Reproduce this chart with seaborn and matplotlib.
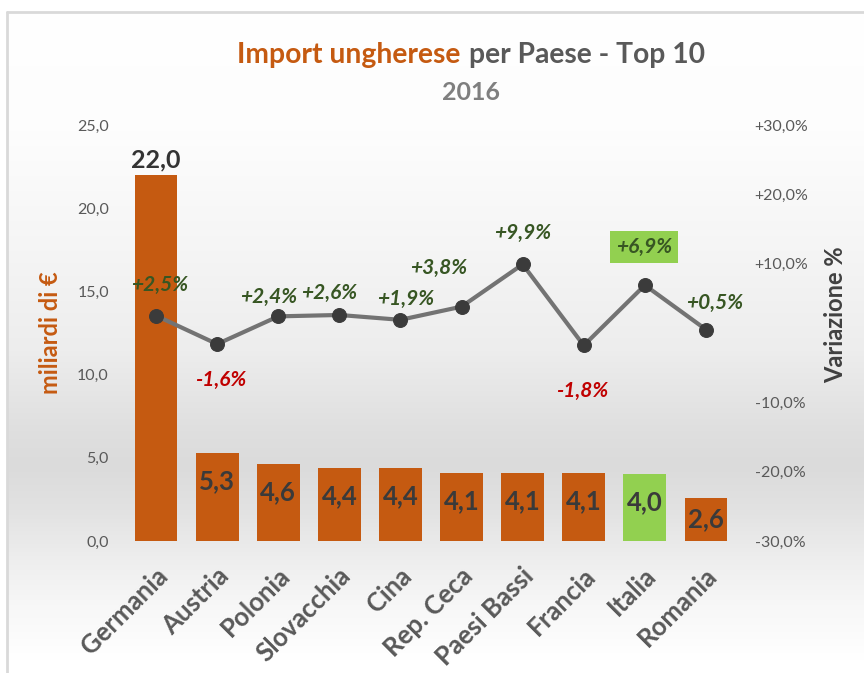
import numpy as np
import matplotlib
matplotlib.use("Agg")
import matplotlib.pyplot as plt
import matplotlib.transforms as mtransforms
import seaborn as sns

countries = ["Germania", "Austria", "Polonia", "Slovacchia", "Cina",
             "Rep. Ceca", "Paesi Bassi", "Francia", "Italia", "Romania"]
imports_bn = [22.0, 5.3, 4.6, 4.4, 4.4, 4.1, 4.1, 4.1, 4.0, 2.6]
change_pct = [2.5, -1.6, 2.4, 2.6, 1.9, 3.8, 9.9, -1.8, 6.9, 0.5]
left_ticks = [0, 5, 10, 15, 20, 25]
right_ticks = [-30, -20, -10, 10, 20, 30]

ORANGE = "#C55A11"
GREEN = "#92D050"
bar_colors = [GREEN if c == "Italia" else ORANGE for c in countries]

sns.set_theme(style="white")
plt.rcParams["font.family"] = ["Lato", "DejaVu Sans"]

W, H = 864, 673
fig = plt.figure(figsize=(W / 100, H / 100), dpi=100)

# background gradient inside the chart frame
bg = fig.add_axes([0, 0, 1, 1], zorder=-10)
bg.axis("off")
ys = np.arange(H)
kp_y = [0, 130, 250, 350, 430, 465, 510, 560, 610, 660, 673]
kp_v = [255, 253, 245, 237, 223, 219, 226, 238, 248, 255, 255]
g = np.interp(ys, kp_y, kp_v) / 255.0
img = np.repeat(g[:, None], W, axis=1)
img[:13, :] = 1.0
img[:, :8] = 1.0
bg.imshow(np.dstack([img, img, img]), aspect="auto", extent=[0, W, H, 0])
bg.set_xlim(0, W)
bg.set_ylim(H, 0)
bg.plot([7, 7], [12, H], color="#d9d9d9", lw=2)
bg.plot([7, W], [12, 12], color="#d9d9d9", lw=2)

ax = fig.add_axes([125.5 / W, 132 / H, 611 / W, 416 / H])
ax.set_facecolor("none")
sns.barplot(x=countries, y=imports_bn, hue=countries, palette=bar_colors,
            legend=False, width=0.7, saturation=1, ax=ax, edgecolor="none")
ax.set_xlim(-0.5, len(countries) - 0.5)
ax.set_ylim(0, 25)
ax.set_yticks(left_ticks)
ax.set_yticklabels([f"{t:.1f}".replace(".", ",") for t in left_ticks],
                   color="#595959", fontsize=11.5)
ax.tick_params(axis="y", length=0, pad=12)
ax.tick_params(axis="x", length=0, pad=16)
ax.set_xlabel("")
ax.set_ylabel("")
shift = mtransforms.ScaledTranslation(-1 / 100, 0, fig.dpi_scale_trans)
for lbl in ax.get_xticklabels():
    lbl.set_rotation(45)
    lbl.set_ha("right")
    lbl.set_rotation_mode("anchor")
    lbl.set_fontsize(18.5)
    lbl.set_fontweight("bold")
    lbl.set_color("#595959")
    lbl.set_transform(lbl.get_transform() + shift)
for s in ax.spines.values():
    s.set_visible(False)

# bar value labels
px_per_unit = 416 / 25
for i, v in enumerate(imports_bn):
    txt = f"{v:.1f}".replace(".", ",")
    if i == 0:
        ax.annotate(txt, (i, v), xytext=(0, 3), textcoords="offset pixels",
                    ha="center", va="bottom", fontsize=18, fontweight="bold",
                    color="#333333")
    else:
        yc = max(v - 28 / px_per_unit, v / 2)
        ax.text(i, yc, txt, ha="center", va="center", fontsize=18.5,
                fontweight="bold", color="#3a3a3a")

ax2 = ax.twinx()
ax2.set_position(ax.get_position())
sns.lineplot(x=np.arange(len(countries)), y=change_pct, ax=ax2, sort=False,
             color="#737373", lw=3, marker="o", markersize=10,
             markerfacecolor="#3b3b3b", markeredgecolor="#3b3b3b")
ax2.set_xlim(-0.5, len(countries) - 0.5)
ax2.set_ylim(-30, 30)
ax2.set_yticks(right_ticks)
ax2.set_yticklabels([f"{t:+.1f}%".replace(".", ",") for t in right_ticks],
                    color="#595959", fontsize=11.5)
ax2.tick_params(axis="y", length=0, pad=13)
ax2.set_ylabel("")
for s in ax2.spines.values():
    s.set_visible(False)

# axis titles
fig.text(50 / W, 1 - 333 / H, "miliardi di €", color=ORANGE, fontsize=17,
         fontweight="bold", rotation=90, ha="center", va="center")
fig.text(836 / W, 1 - 315 / H, "Variazione %", color="#404040", fontsize=17,
         fontweight="bold", rotation=90, ha="center", va="center")

offsets = [(4, 31), (4, -36), (-10, 19), (-10, 22), (5, 21),
           (-23, 39), (0, 31), (-2, -45), (-1, 38), (9, 27)]
for i, (v, (dx, dy)) in enumerate(zip(change_pct, offsets)):
    txt = f"{v:+.1f}%".replace(".", ",")
    col = "#375623" if v >= 0 else "#C00000"
    kw = {}
    if countries[i] == "Italia":
        kw["bbox"] = dict(boxstyle="square,pad=0.3", fc=GREEN, ec="none")
    ax2.annotate(txt, (i, v), xytext=(dx, dy), textcoords="offset pixels",
                 ha="center", va="center", fontsize=15, fontweight="bold",
                 fontstyle="italic", color=col, **kw)

# title
t1 = fig.text(0, 1 - 55 / H, "Import ungherese", color=ORANGE, fontsize=20.3,
              fontweight="bold", ha="left", va="center")
t2 = fig.text(0, 1 - 55 / H, "per Paese - Top 10", color="#595959", fontsize=20.3,
              fontweight="bold", ha="left", va="center")
fig.canvas.draw()
r = fig.canvas.get_renderer()
w1 = t1.get_window_extent(r).width
w2 = t2.get_window_extent(r).width
gap = 8
total = w1 + gap + w2
x0 = 471 - total / 2
t1.set_x(x0 / W)
t2.set_x((x0 + w1 + gap) / W)
fig.text(471 / W, 1 - 93 / H, "2016", color="#7f7f7f", fontsize=18,
         fontweight="bold", ha="center", va="center")

fig.savefig("out.png", dpi=100)
